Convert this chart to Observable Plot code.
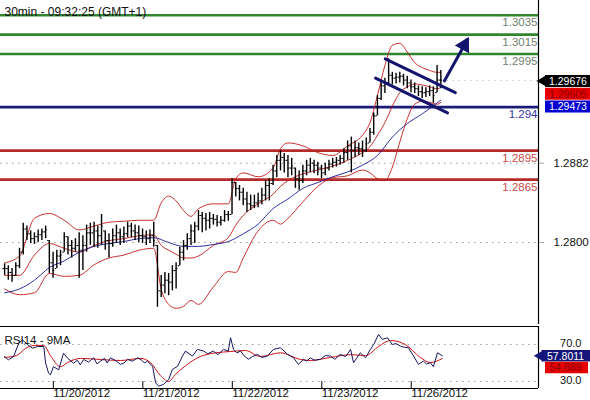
<!DOCTYPE html>
<html><head><meta charset="utf-8">
<script src="https://cdn.jsdelivr.net/npm/d3@7"></script>
<script src="https://cdn.jsdelivr.net/npm/@observablehq/plot@0.6"></script>
<style>
body{margin:0;background:#fff;overflow:hidden}
#chart{width:590px;height:400px;position:relative}
#chart svg{display:block}
</style>
</head><body><div id="chart"></div>
<script>
// ---- hourly OHLC bars ----
const highs = [1.2778,1.2776,1.2773,1.2779,1.2794,1.2820,1.2817,1.2812,1.2810,1.2813,
1.2814,1.2817,1.2802,1.2790,1.2792,1.2792,1.2810,1.2806,1.2802,1.2804,
1.2810,1.2807,1.2818,1.2820,1.2821,1.2817,1.2829,1.2812,1.2809,1.2814,
1.2818,1.2814,1.2816,1.2821,1.2820,1.2818,1.2817,1.2814,1.2812,1.2813,
1.2821,1.2797,1.2766,1.2769,1.2768,1.2776,1.2779,1.2795,1.2802,1.2809,
1.2818,1.2821,1.2833,1.2831,1.2830,1.2831,1.2829,1.2828,1.2827,1.2833,
1.2832,1.2866,1.2862,1.2859,1.2856,1.2852,1.2849,1.2849,1.2851,1.2856,
1.2864,1.2866,1.2880,1.2890,1.2895,1.2892,1.2890,1.2887,1.2877,1.2874,
1.2880,1.2885,1.2887,1.2885,1.2883,1.2880,1.2882,1.2885,1.2887,1.2888,
1.2890,1.2897,1.2905,1.2909,1.2905,1.2903,1.2905,1.2908,1.2918,1.2934,
1.2952,1.2965,1.2970,1.2990,1.2976,1.2975,1.2976,1.2974,1.2972,1.2968,
1.2965,1.2962,1.2961,1.2960,1.2962,1.2961,1.2983,1.2978];
const lows = [1.2766,1.2761,1.2759,1.2765,1.2773,1.2787,1.2802,1.2799,1.2798,1.2800,
1.2802,1.2804,1.2768,1.2763,1.2773,1.2776,1.2790,1.2787,1.2784,1.2790,
1.2763,1.2771,1.2790,1.2797,1.2795,1.2794,1.2797,1.2792,1.2784,1.2795,
1.2799,1.2797,1.2799,1.2805,1.2805,1.2802,1.2800,1.2799,1.2797,1.2799,
1.2795,1.2733,1.2743,1.2747,1.2745,1.2750,1.2752,1.2776,1.2781,1.2792,
1.2797,1.2799,1.2812,1.2810,1.2812,1.2814,1.2818,1.2816,1.2817,1.2821,
1.2822,1.2829,1.2847,1.2843,1.2838,1.2831,1.2833,1.2835,1.2836,1.2839,
1.2843,1.2843,1.2859,1.2867,1.2874,1.2872,1.2867,1.2869,1.2856,1.2854,
1.2861,1.2869,1.2872,1.2871,1.2869,1.2866,1.2869,1.2874,1.2877,1.2878,
1.2880,1.2882,1.2885,1.2872,1.2888,1.2890,1.2888,1.2893,1.2903,1.2911,
1.2931,1.2947,1.2954,1.2962,1.2963,1.2964,1.2965,1.2962,1.2959,1.2955,
1.2954,1.2951,1.2949,1.2950,1.2951,1.2944,1.2955,1.2959];
const closes = [1.2773,1.2769,1.2766,1.2776,1.2790,1.2814,1.2809,1.2804,1.2806,1.2808,
1.2811,1.2813,1.2779,1.2771,1.2786,1.2787,1.2806,1.2797,1.2794,1.2797,
1.2792,1.2797,1.2810,1.2810,1.2812,1.2807,1.2817,1.2802,1.2799,1.2807,
1.2810,1.2806,1.2809,1.2817,1.2812,1.2810,1.2807,1.2806,1.2804,1.2807,
1.2802,1.2750,1.2756,1.2761,1.2759,1.2771,1.2773,1.2790,1.2797,1.2804,
1.2812,1.2817,1.2828,1.2825,1.2823,1.2825,1.2824,1.2821,1.2823,1.2829,
1.2829,1.2862,1.2856,1.2852,1.2845,1.2840,1.2838,1.2841,1.2843,1.2849,
1.2859,1.2861,1.2874,1.2885,1.2888,1.2885,1.2877,1.2879,1.2866,1.2864,
1.2874,1.2880,1.2882,1.2880,1.2877,1.2872,1.2877,1.2881,1.2883,1.2885,
1.2887,1.2893,1.2900,1.2895,1.2898,1.2897,1.2895,1.2902,1.2914,1.2931,
1.2949,1.2962,1.2965,1.2973,1.2970,1.2971,1.2972,1.2968,1.2965,1.2961,
1.2959,1.2956,1.2955,1.2956,1.2957,1.2952,1.2968,1.2968];

// ---- Bollinger bands (upper / middle / lower) ----
const bandIdx = [0,4,8,12,16,20,24,28,32,36,40,42,44,46,48,50,52,56,60,62,64,68,72,74,76,80,84,88,92,96,98,100,102,104,106,108,110,112,114,116,117];
const bandUpper = [1.2779,1.2786,1.2825,1.2830,1.2823,1.2813,1.2817,1.2821,1.2822,1.2823,1.2823,
1.2841,1.2848,1.2843,1.2833,1.2827,1.2835,1.2840,1.2840,
1.2866,1.2872,1.2868,1.2877,1.2897,1.2903,1.2900,1.2893,1.2890,1.2900,1.2911,1.2924,
1.2952,1.2983,1.3004,1.3006,1.2997,1.2986,1.2981,1.2978,1.2976,1.2976];
const bandMid = [1.2766,1.2766,1.2787,1.2799,1.2794,1.2790,1.2797,1.2802,1.2804,1.2807,1.2808,
1.2797,1.2792,1.2788,1.2784,1.2784,1.2786,1.2797,1.2805,
1.2818,1.2828,1.2840,1.2850,1.2858,1.2864,1.2871,1.2875,1.2879,1.2885,1.2893,1.2899,
1.2911,1.2924,1.2941,1.2955,1.2961,1.2964,1.2963,1.2961,1.2959,1.29605];
const bandLower = [1.2752,1.2746,1.2748,1.2768,1.2765,1.2766,1.2777,1.2784,1.2787,1.2792,1.2794,
1.2752,1.2736,1.2732,1.2734,1.2740,1.2736,1.2754,1.2770,
1.2769,1.2784,1.2812,1.2823,1.2819,1.2825,1.2842,1.2858,1.2867,1.2869,1.2875,1.2872,
1.2866,1.2864,1.2878,1.2904,1.2928,1.2943,1.2946,1.2945,1.2943,1.2945];

// ---- blue moving average ----
const maIdx = [0,4,8,12,16,20,24,28,32,36,40,44,48,52,56,60,64,68,72,76,80,84,88,92,96,100,104,108,112,117];
const maVal = [1.2748,1.2752,1.2761,1.2774,1.2781,1.2790,1.2796,1.2799,1.2801,1.2804,1.2805,1.2800,1.2796,1.2796,1.2798,
1.2801,1.2809,1.2819,1.2835,1.2845,1.2856,1.2862,1.2868,1.2873,1.2880,1.2890,1.2909,1.2923,1.2933,1.29473];

// ---- horizontal levels ----
const levelValues = [1.3035, 1.3015, 1.2995, 1.294, 1.2895, 1.2865];
const levelLabels = ["1.3035", "1.3015", "1.2995", "1.294", "1.2895", "1.2865"];
const levelKinds = ["resistance", "resistance", "resistance", "pivot", "support", "support"];

// ---- channel and arrow annotation (bar position, price) ----
const channelUpperIdx = [102.1, 120.9], channelUpperVal = [1.2990, 1.2955];
const channelLowerIdx = [99.5, 118.8], channelLowerVal = [1.2970, 1.2934];
const arrowIdx = [117.8, 124.3], arrowVal = [1.2966, 1.3011];

// ---- right-hand price tags ----
const tagValues = [1.29676, 1.29605, 1.29473];
const tagTexts = ["1.29676", "1.29605", "1.29473"];
const priceTicks = [1.2800, 1.2882];

// ---- RSI panel ----
const rsiT = [0,1,2.4,3.8,4.8,6.2,7.5,8.8,10.5,11,11.8,12.3,13.1,14.5,15.8,16.9,18.5,19.5,20.3,21.2,22.5,23.9,24.8,25.7,26.8,27.5,28.4,29.6,30.3,31.1,32,33,34.3,35.7,36.8,37.5,38.3,39.7,40.5,41.3,42.6,44,45,46.4,47.7,48.5,50.4,51.7,53.4,54.5,56,57.2,58.7,60,60.6,61.4,62.3,63.3,64.2,65.4,66.5,67.8,69,70.5,72.1,74,75.9,77.5,78.8,80.2,81,82,83.2,84.7,86,87.4,88.6,90,91.5,92.8,93.6,95.4,96.8,98.1,99,100.3,101.3,102.7,104,105,106.2,107.2,108.3,109.7,111,112.3,113.2,114.2,115,116.1,117.4];
const rsiV = [57,53.4,57,71.4,75,69.7,66,67.8,67.8,49.8,39,37.2,46,42.6,60.6,55.2,49.8,53,48,53.8,51,55.6,49,52,55,50,55.6,53,51,48.5,50,54,52,55.6,53,50,52,46.5,28.6,25,26.8,32,43,46.5,57.5,62.9,57.5,64.7,62.9,60,62.9,59,64.7,62.9,77.3,64.7,61,62.9,58,54,57,59.3,56,57.5,64.7,66.5,59.3,55.6,48.5,54,52,55.6,53,54,58,57.5,54,59.3,57,64.7,50.3,61,55.6,64.7,70,80.9,75.5,77.3,70,71,68.2,67,66.5,57.5,48.5,52,49,50.3,46,61,57.8];
const rsiMaT = [0,3.2,5.6,8.3,10.5,12.3,15,16.9,20.4,25.7,31.1,36.5,39.1,41.8,44,45.8,48.5,52.5,56.6,60.6,64.6,68.6,74,79.4,82,87.4,92.8,96.8,100.3,103.5,107.5,111.5,114.2,117.4];
const rsiMaV = [56,58,65.7,69,69,58,46,50.5,55,53.8,52.7,55,50.5,36.5,30,37.6,47,57,61,62.4,63.5,57,61,53.8,52.7,56,59,58,67.8,74.3,70,56,50.5,54.9];
const rsiTicks = [30, 70];
const rsiTagValues = [57.8011, 54.889];
const rsiTagTexts = ["57.8011", "54.889"];

// ---- date axis ----
const dateIdx = [12, 36, 60, 84, 108];
const dateLabels = ["11/20/2012", "11/21/2012", "11/22/2012", "11/23/2012", "11/26/2012"];

// ================= build =================
const W = 590, PR = 538;
const xDom = [-1.1, 143.2];
const pxToX = p => xDom[0] + p / PR * (xDom[1] - xDom[0]);
const font = "'Liberation Sans', Arial, sans-serif";
const navy = "#14146e";

const bars = highs.map((h, i) => {
  const prev = i ? closes[i - 1] : closes[i];
  return {i, high: h, low: lows[i], close: closes[i], open: Math.max(lows[i], Math.min(h, prev))};
});
const band = bandIdx.map((t, k) => ({t, u: bandUpper[k], m: bandMid[k], l: bandLower[k]}));
const ma = maIdx.map((t, k) => ({t, v: maVal[k]}));
const levelColor = {resistance: "#2f862f", pivot: "#1b1b78", support: "#b42a2a"};
const levelTextColor = {resistance: "#6f7f6f", pivot: "#3434a4", support: "#cc4a4a"};
const levels = levelValues.map((v, k) => ({v, label: levelLabels[k], kind: levelKinds[k]}));
const tagBg = ["#000000", "#e80000", "#0000d0"];
const tagFg = ["#ffffff", "#8a0000", "#ffffff"];
const tagDy = [0.5, 6.5, 6.5];
const tags = tagValues.map((v, k) => ({v, text: tagTexts[k], bg: tagBg[k], fg: tagFg[k], dy: tagDy[k]}));
const arrow = [{x1: arrowIdx[0], y1: arrowVal[0], x2: arrowIdx[1], y2: arrowVal[1]}];

const yMain = [1.27152, 1.30503];

const mainMarks = [
  Plot.gridY({ticks: priceTicks, stroke: "#9a9a9a", strokeOpacity: 1, strokeDasharray: "1.5,4.5"}),
  Plot.ruleY([tagValues[0]], {x1: closes.length - 1, x2: xDom[1], stroke: "#c8c8c8", strokeDasharray: "1.5,4.5"}),
  Plot.ruleY(levels, {y: "v", stroke: d => levelColor[d.kind], strokeWidth: 2.6}),
  Plot.text(levels, {y: "v", text: "label", frameAnchor: "right", dx: -1, dy: 7.5, textAnchor: "end", fill: d => levelTextColor[d.kind], fontSize: 11.5}),
  Plot.line(band, {x: "t", y: "u", stroke: "#c21a1a", strokeWidth: 0.9, curve: "monotone-x"}),
  Plot.line(band, {x: "t", y: "l", stroke: "#c21a1a", strokeWidth: 0.9, curve: "monotone-x"}),
  Plot.line(band, {x: "t", y: "m", stroke: "#c21a1a", strokeWidth: 0.9, curve: "monotone-x"}),
  Plot.line(ma, {x: "t", y: "v", stroke: "#1a1a9a", strokeWidth: 0.9, curve: "monotone-x"}),
  Plot.ruleX(bars, {x: "i", y1: "low", y2: "high", stroke: "#000", strokeWidth: 1.4}),
  Plot.ruleY(bars, {y: "open", x1: d => d.i - 0.45, x2: "i", stroke: "#000", strokeWidth: 1}),
  Plot.ruleY(bars, {y: "close", x1: "i", x2: d => d.i + 0.45, stroke: "#000", strokeWidth: 1}),
  Plot.line(channelUpperIdx.map((t, k) => ({t, v: channelUpperVal[k]})), {x: "t", y: "v", stroke: navy, strokeWidth: 3}),
  Plot.line(channelLowerIdx.map((t, k) => ({t, v: channelLowerVal[k]})), {x: "t", y: "v", stroke: navy, strokeWidth: 3}),
  Plot.link(arrow, {x1: "x1", y1: "y1", x2: "x2", y2: "y2", stroke: navy, strokeWidth: 3}),
  Plot.dot(arrow, {x: "x2", y: "y2", symbol: "triangle", r: 5.4, rotate: 29, fill: navy, stroke: navy, strokeWidth: 1, dx: -3.8, dy: 6.8}),
  Plot.ruleX([xDom[1]], {stroke: "#000", strokeWidth: 1.2}),
  Plot.axisY({anchor: "right", ticks: priceTicks, tickFormat: d3.format(".4f"), tickSize: 5, tickPadding: 10, stroke: "#aaa", fill: "#111", fontSize: 11.5, label: null}),
  Plot.text(["30min - 09:32:25 (GMT+1)"], {frameAnchor: "top-left", dx: 4, dy: 7, textAnchor: "start", fontSize: 12, fill: "#111"})
];
tags.forEach(t => {
  mainMarks.push(Plot.ruleY([t], {y: "v", x1: pxToX(545), x2: pxToX(592), stroke: t.bg, strokeWidth: 12, dy: t.dy}));
  mainMarks.push(Plot.text([t], {y: "v", x: pxToX(548.5), text: "text", textAnchor: "start", fill: t.fg, fontSize: 10.5, dy: t.dy + 0.5}));
});
mainMarks.push(Plot.dot([tags[0]], {y: "v", x: pxToX(542.5), symbol: "triangle", r: 4.2, rotate: -90, fill: "#000", stroke: null, dy: tags[0].dy}));

const mainPlot = Plot.plot({
  width: W, height: 324,
  marginLeft: 0, marginRight: W - PR, marginTop: 0, marginBottom: 0,
  x: {domain: xDom, axis: null},
  y: {domain: yMain, axis: null},
  style: {background: "#fff", fontFamily: font, fontSize: "11px", overflow: "visible"},
  marks: mainMarks
});

// ---------- RSI ----------
const yR = [22.43, 89.46];
const rsi = rsiT.map((t, k) => ({t, v: rsiV[k]}));
const rsiMa = rsiMaT.map((t, k) => ({t, v: rsiMaV[k]}));
const rtagBg = ["#16167a", "#e80000"];
const rtagFg = ["#ffffff", "#8a0000"];
const rtagDy = [0, 9];
const rtags = rsiTagValues.map((v, k) => ({v, text: rsiTagTexts[k], bg: rtagBg[k], fg: rtagFg[k], dy: rtagDy[k]}));

const rsiMarks = [
  Plot.gridY({ticks: rsiTicks, stroke: "#9a9a9a", strokeOpacity: 1, strokeDasharray: "1.5,4.5"}),
  Plot.ruleY([yR[1]], {stroke: "#000", strokeWidth: 1.2}),
  Plot.ruleY([yR[0]], {stroke: "#000", strokeWidth: 1.2}),
  Plot.ruleX([xDom[1]], {stroke: "#000", strokeWidth: 1.2}),
  Plot.line(rsiMa, {x: "t", y: "v", stroke: "#cc1010", strokeWidth: 1, curve: "monotone-x"}),
  Plot.line(rsi, {x: "t", y: "v", stroke: "#16165e", strokeWidth: 1}),
  Plot.text(["RSI14 - 9MA"], {frameAnchor: "top-left", dx: 4, dy: 9, textAnchor: "start", fontSize: 11.5, fill: "#111"}),
  Plot.axisY({anchor: "right", ticks: rsiTicks, tickFormat: d3.format(".1f"), tickSize: 0, tickPadding: 43, textAnchor: "end", fill: "#111", fontSize: 11, dy: -1, label: null}),
  Plot.axisX({anchor: "bottom", ticks: dateIdx, tickFormat: d => dateLabels[dateIdx.indexOf(d)], tickSize: 7, tickPadding: 0, textAnchor: "start", dx: 4, dy: -7, stroke: "#000", fill: "#111", fontSize: 11.5, label: null})
];
rtags.forEach((t, k) => {
  rsiMarks.push(Plot.ruleY([t], {y: "v", x1: pxToX(k === 0 ? 541.5 : 545), x2: pxToX(k === 0 ? 592 : 588), stroke: t.bg, strokeWidth: 11.5, dy: t.dy}));
  rsiMarks.push(Plot.text([t], {y: "v", x: pxToX(k === 0 ? 546.5 : 549), text: "text", textAnchor: "start", fill: t.fg, fontSize: 10.5, dy: t.dy + 0.5}));
});
rsiMarks.push(Plot.dot([rtags[0]], {y: "v", x: pxToX(539.5), symbol: "triangle", r: 4, rotate: -90, fill: rtagBg[0], stroke: null, dy: rtags[0].dy}));

const rsiPlot = Plot.plot({
  width: W, height: 76,
  marginLeft: 0, marginRight: W - PR, marginTop: 2, marginBottom: 12,
  x: {domain: xDom, axis: null},
  y: {domain: yR, axis: null},
  style: {background: "#fff", fontFamily: font, fontSize: "11px", overflow: "visible"},
  marks: rsiMarks
});

const root = document.getElementById("chart");
root.appendChild(mainPlot);
root.appendChild(rsiPlot);
</script>
</body></html>
